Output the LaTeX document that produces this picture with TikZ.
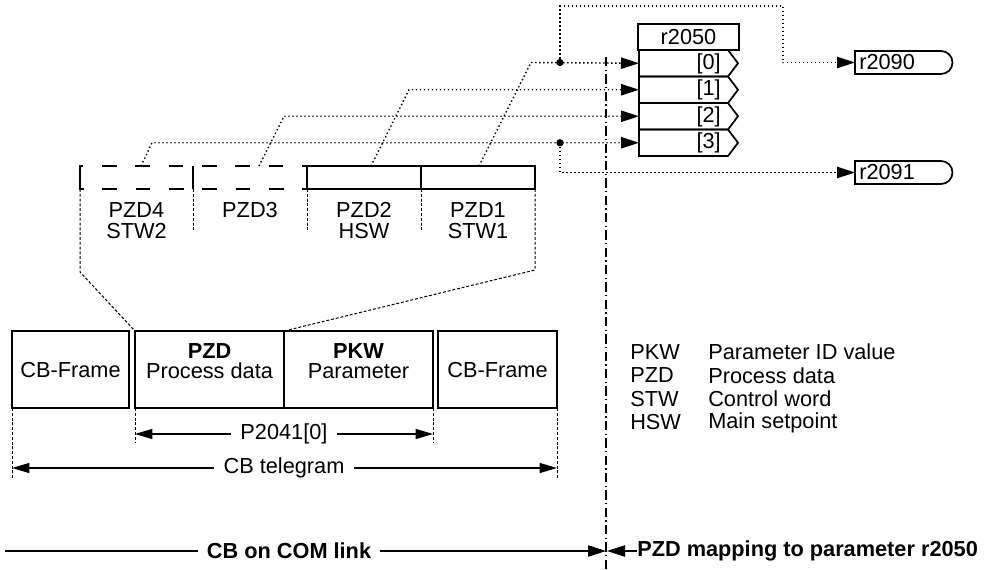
\documentclass[tikz,border=0pt]{standalone}
\usepackage{fontspec}
\setmainfont{Liberation Sans}
\usetikzlibrary{arrows.meta}
\begin{document}
\begin{tikzpicture}[x=0.75pt,y=-0.75pt,
  txt/.style={font=\fontsize{16.3}{18}\selectfont, inner sep=0pt},
  btxt/.style={font=\fontsize{16.3}{18}\selectfont\bfseries, inner sep=0pt},
  thickbox/.style={line width=1.9pt},
  rowln/.style={line width=1.3pt},
  thinln/.style={line width=0.8pt},
  dotln/.style={line width=1.05pt, dash pattern=on 1.05pt off 1.95pt},
  dashln/.style={line width=0.75pt, dash pattern=on 2.2pt off 1.4pt},
  bigdash/.style={line width=1.9pt, dash pattern=on 11pt off 14pt},
  dashdot/.style={line width=0.8pt, dash pattern=on 7pt off 2.6pt on 0.8pt off 2.6pt},
  tip/.style={-{Triangle[length=13.5pt,width=8.5pt]}},
  tips/.style={{Triangle[length=13pt,width=7.5pt]}-{Triangle[length=13pt,width=7.5pt]}},
  dot/.style={circle, fill=black, inner sep=0pt, minimum size=5.5pt}
]
\useasboundingbox (0,0) rectangle (989,569);

% ---- r2050 block ----
\draw[thickbox] (638,24) rectangle (739,50);
\node[txt] (hdr) at (688.5,37.5) {r2050};
\foreach \i/\t in {0/50,1/76.5,2/103,3/129.5}{
  \draw[rowln] (639,\t) -- (728,\t) -- (738,{\t+13.25}) -- (728,{\t+26.5}) -- (639,{\t+26.5}) -- cycle;
  \node[txt, anchor=east] (lab\i) at (721,{\t+13.5}) {[\i]};
  \coordinate (in\i) at (639,{\t+13.25});
}

% ---- r2090 / r2091 ----
\draw[rowln] (855,51) -- (941,51) arc[start angle=-90,end angle=90,radius=11.5] -- (855,74) -- cycle;
\node[txt, anchor=west] (o2090) at (859,62.5) {r2090};
\coordinate (p2090) at (855,62.5);
\draw[rowln] (855,161) -- (941,161) arc[start angle=-90,end angle=90,radius=11.5] -- (855,184) -- cycle;
\node[txt, anchor=west] (o2091) at (859,172.5) {r2091};
\coordinate (p2091) at (855,172.5);

% ---- PZD word row ----
\draw[thickbox] (307,166) rectangle (535,189);
\draw[thickbox] (421,166) -- (421,189);
\draw[bigdash] (80,177.5) -- (80,166) -- (307,166);
\draw[bigdash] (80,178) -- (80,189) -- (307,189);
\draw[thickbox] (193,166) -- (193,189);
\draw[thickbox] (307,166) -- (307,189);
\node[txt] (pzd4) at (136.5,210) {PZD4};
\node[txt] (stw2) at (136.5,231) {STW2};
\node[txt] (pzd3) at (250,210) {PZD3};
\node[txt] (pzd2) at (364,210) {PZD2};
\node[txt] (hsw) at (364,231) {HSW};
\node[txt] (pzd1) at (478,210) {PZD1};
\node[txt] (stw1) at (478,231) {STW1};
\foreach \x in {193,307,421}{\draw[dashln] (\x,189) -- (\x,231);}

% slanted dotted connections to r2050
\coordinate (w1) at (479,166); \coordinate (k1) at (531,62.5);
\coordinate (w2) at (371,166); \coordinate (k2) at (409,89.75);
\coordinate (w3) at (259,166); \coordinate (k3) at (284,116.25);
\coordinate (w4) at (141,166); \coordinate (k4) at (152,142.75);
\draw[dotln, tip] (w1) -- (k1) -- (in0);
\draw[dotln, tip] (w2) -- (k2) -- (in1);
\draw[dotln, tip] (w3) -- (k3) -- (in2);
\draw[dotln, tip] (w4) -- (k4) -- (in3);
\node[dot] (d0) at (560,62.5) {};
\node[dot] (d3) at (560,142.75) {};
\draw[dotln, tip] (d0.center) -- (560,6) -- (783,6) -- (783,62.5) -- (p2090);
\draw[dotln, tip] (d3.center) -- (560,172.5) -- (p2091);

% ---- expansion lines ----
\draw[dashln] (80,189) -- (80,272) -- (135,331);
\draw[dashln] (535,189) -- (535,270) -- (284,331);

% ---- telegram ----
\draw[thickbox] (12,331) rectangle (129,408);
\node[txt] (cbf1) at (70.5,370) {CB-Frame};
\draw[thickbox] (135,331) rectangle (433,408);
\draw[thinln] (284,331) -- (284,408);
\node[btxt] (pzdb) at (209.5,351) {PZD};
\node[txt] (pd) at (209.5,371) {Process data};
\node[btxt] (pkwb) at (358.5,351) {PKW};
\node[txt] (par) at (358.5,371) {Parameter};
\draw[thickbox] (438,331) rectangle (557,408);
\node[txt] (cbf2) at (497.5,370) {CB-Frame};

\foreach \x/\b in {12/478,135/442,433/442,557/478}{\draw[dashln] (\x,408) -- (\x,\b);}
\coordinate (a1) at (135,434); \coordinate (a2) at (433,434);
\draw[thinln, tips] (a1) -- (a2);
\node[txt, fill=white, inner xsep=7pt, inner ysep=2pt] (p2041) at (284,434) {P2041[0]};
\coordinate (b1) at (12,468); \coordinate (b2) at (557,468);
\draw[thinln, tips] (b1) -- (b2);
\node[txt, fill=white, inner xsep=7pt, inner ysep=2pt] (cbt) at (284,468) {CB telegram};

% ---- legend ----
\foreach \k/\v/\y in {PKW/Parameter ID value/352,PZD/Process data/375.5,STW/Control word/399,HSW/Main setpoint/422.5}{
  \node[txt, anchor=west] (lk\k) at (630,\y) {\k};
  \node[txt, anchor=west] (lv\k) at (708,\y) {\v};
}

% ---- divider and bottom ----
\coordinate (dtop) at (606,57); \coordinate (dbot) at (606,569);
\draw[dashdot] (dtop) -- (dbot);
\coordinate (s1) at (5,551); \coordinate (s2) at (606,551);
\draw[thinln, tip] (s1) -- (s2);
\node[btxt, fill=white, inner xsep=7pt, inner ysep=2pt] (cbcom) at (289,551) {CB on COM link};
\node[btxt, anchor=west] (pzdmap) at (637,551) {PZD mapping to parameter r2050};
\coordinate (s3) at (607,551);
\draw[thinln, tip] (pzdmap.west) -- (s3);
\end{tikzpicture}
\end{document}
